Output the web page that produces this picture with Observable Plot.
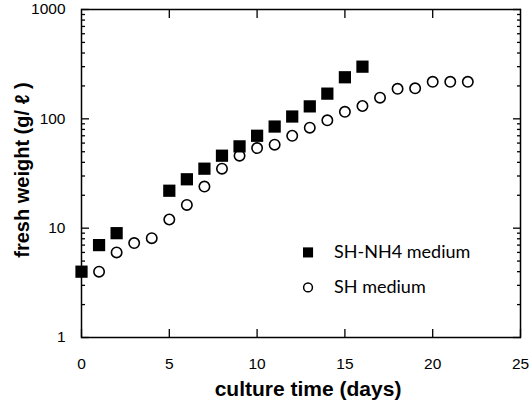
<!DOCTYPE html>
<html>
<head>
<meta charset="utf-8">
<script src="https://cdn.jsdelivr.net/npm/d3@7"></script>
<script src="https://cdn.jsdelivr.net/npm/@observablehq/plot@0.6"></script>
<style>
  body { margin: 0; background: #fff; }
  #chart svg { display: block; }
</style>
</head>
<body>
<div id="chart"></div>
<script>
// SH-NH4 medium (filled squares)
const nh4Days = [0, 1, 2, 5, 6, 7, 8, 9, 10, 11, 12, 13, 14, 15, 16];
const nh4Weight = [4, 7, 9, 22, 28, 35, 46, 56, 70, 85, 105, 130, 170, 240, 300];
// SH medium (open circles)
const shDays = [1, 2, 3, 4, 5, 6, 7, 8, 9, 10, 11, 12, 13, 14, 15, 16, 17, 18, 19, 20, 21, 22];
const shWeight = [4, 6, 7.3, 8.1, 12, 16.3, 24, 35, 46, 54, 58, 70, 83, 97, 116, 131, 156, 188, 190, 218, 218, 218];

const xTicks = [0, 5, 10, 15, 20, 25];
const xTopTicks = [5, 10, 15, 20];
const yTicks = [1, 10, 100, 1000];
const yMinor = [2,3,4,5,6,7,8,9,20,30,40,50,60,70,80,90,200,300,400,500,600,700,800,900];

const seriesNames = ["SH-NH4 medium", "SH medium"];
const legendX = 12.9;
const legendY = [6.0, 2.87];

const nh4 = nh4Days.map((d, i) => ({day: d, w: nh4Weight[i]}));
const sh = shDays.map((d, i) => ({day: d, w: shWeight[i]}));

const font = "Liberation Sans, Arial, Helvetica, sans-serif";
const none = () => "";
const MAJ = 8, MIN = 4;

const chart = Plot.plot({
  width: 532,
  height: 403,
  marginLeft: 81,
  marginRight: 12,
  marginTop: 9,
  marginBottom: 66,
  style: {fontFamily: font, fontSize: "16px", color: "#000", background: "#fff"},
  x: {domain: [0, 25]},
  y: {type: "log", domain: [1, 1000]},
  marks: [
    // inward tick marks
    Plot.axisX({ticks: xTicks, tickSize: MAJ, dy: -MAJ, tickFormat: none, label: null, strokeWidth: 1.3}),
    Plot.axisX({anchor: "top", ticks: xTopTicks, tickSize: MAJ, dy: MAJ, tickFormat: none, label: null, strokeWidth: 1.3}),
    Plot.axisY({ticks: yTicks, tickSize: MAJ, dx: MAJ, tickFormat: none, label: null, strokeWidth: 1.3}),
    Plot.axisY({ticks: yMinor, tickSize: MIN, dx: MIN, tickFormat: none, label: null, strokeWidth: 1.3}),
    Plot.axisY({anchor: "right", ticks: yTicks, tickSize: MAJ, dx: -MAJ, tickFormat: none, label: null, strokeWidth: 1.3}),
    Plot.axisY({anchor: "right", ticks: yMinor, tickSize: MIN, dx: -MIN, tickFormat: none, label: null, strokeWidth: 1.3}),
    // tick labels
    Plot.axisX({ticks: xTicks, tickSize: 0, tickPadding: 20, tickFormat: d => String(d), label: null, fontSize: 15.5}),
    Plot.axisY({ticks: yTicks, tickSize: 0, tickPadding: 16, tickFormat: d => String(d), label: null, fontSize: 15.5}),
    Plot.frame({stroke: "#000", strokeWidth: 1.5}),
    Plot.dot(sh, {x: "day", y: "w", r: 5.2, stroke: "#000", strokeWidth: 1.6, fill: "#fff"}),
    Plot.dot(nh4, {x: "day", y: "w", symbol: "square", r: 6.9, fill: "#000", stroke: "none"}),
    // legend
    Plot.dot([0], {x: () => legendX, y: () => legendY[0], symbol: "square", r: 5.7, fill: "#000"}),
    Plot.dot([0], {x: () => legendX, y: () => legendY[1], r: 4.4, stroke: "#000", strokeWidth: 1.5, fill: "#fff"}),
    Plot.text(seriesNames, {x: () => legendX, y: (d, i) => legendY[i], text: d => d, textAnchor: "start", dx: 26, fontSize: 18, fontFamily: "Lato, sans-serif"}),
    // axis titles
    Plot.text(["culture time (days)"], {x: () => 12.9, frameAnchor: "bottom", dy: 58, text: d => d, fontWeight: "bold", fontSize: 21}),
    Plot.text(["fresh weight (g/ ℓ )"], {y: () => 34, frameAnchor: "left", textAnchor: "middle", dx: -59, rotate: -90, text: d => d, fontWeight: "bold", fontSize: 20})
  ]
});
document.getElementById("chart").appendChild(chart);
</script>
</body>
</html>
